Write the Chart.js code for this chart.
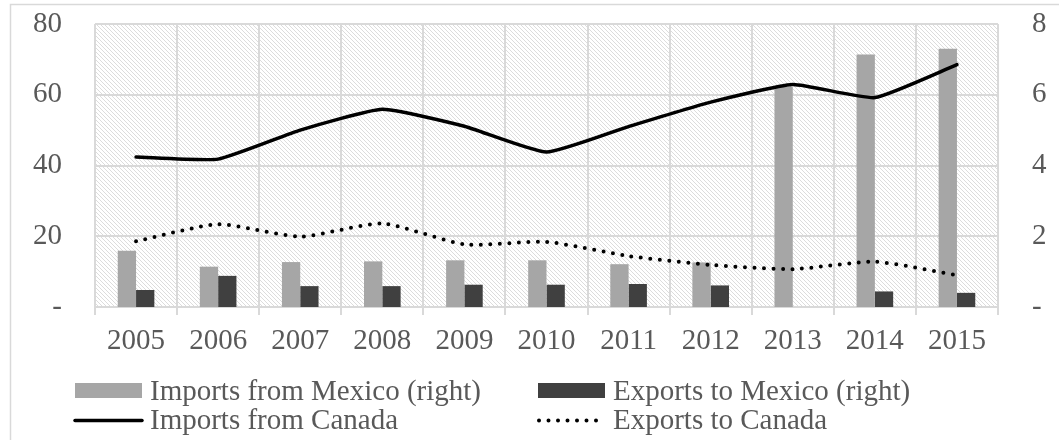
<!DOCTYPE html>
<html>
<head>
<meta charset="utf-8">
<script src="https://cdn.jsdelivr.net/npm/chart.js@4.4.0/dist/chart.umd.min.js"></script>
<style>
    html, body { margin: 0; padding: 0; background: #fff; }
</style>
</head>
<body>
<canvas id="chart" width="1059" height="440"></canvas>
<script>
// Данные
const years = ['2005', '2006', '2007', '2008', '2009', '2010', '2011', '2012', '2013', '2014', '2015'];
const importsMexico = [1.59, 1.14, 1.27, 1.29, 1.32, 1.32, 1.21, 1.26, 6.22, 7.14, 7.30];
const exportsMexico = [0.48, 0.88, 0.59, 0.59, 0.63, 0.63, 0.65, 0.61, null, 0.44, 0.40];
const importsCanada = [42.4, 41.8, 50.0, 55.9, 51.1, 43.8, 51.0, 57.9, 62.9, 59.2, 68.5];
const exportsCanada = [18.6, 23.4, 19.9, 23.6, 17.7, 18.4, 14.4, 11.9, 10.7, 12.8, 9.0];
const seriesNames = ['Imports from Mexico (right)', 'Exports to Mexico (right)', 'Imports from Canada', 'Exports to Canada'];

const FONT = '"Liberation Serif", "Times New Roman", serif';
const TEXT = '#595959';
const GRID = '#d9d9d9';

Chart.defaults.font.family = FONT;
Chart.defaults.font.size = 29;
Chart.defaults.color = TEXT;

function zeroDash(v) {
    return v === 0 ? '-' : v;
}

// Штриховка фона области построения
function makeHatch() {
    const c = document.createElement('canvas');
    c.width = 8; c.height = 8;
    const g = c.getContext('2d');
    g.fillStyle = '#fff';
    g.fillRect(0, 0, 8, 8);
    g.fillStyle = '#dcdcdc';
    for (let i = 0; i < 8; i++) {
        g.fillRect(i, i, 1, 1);
        g.fillRect((i + 4) % 8, i, 1, 1);
    }
    return c;
}

// отступ подписей не должен сдвигать верх области построения
function fitY(width) {
    return s => {
        s.width = width;
        s.paddingTop = 17;
        s.paddingBottom = 17;
    };
}

const backdrop = {
    id: 'backdrop',
    beforeDraw(chart) {
        const {ctx, chartArea: a} = chart;
        ctx.save();
        ctx.strokeStyle = GRID;
        ctx.lineWidth = 1.5;
        ctx.strokeRect(10.5, 4.5, 1200, 600);
        ctx.fillStyle = ctx.createPattern(makeHatch(), 'repeat');
        ctx.fillRect(a.left, a.top, a.right - a.left, a.bottom - a.top);
        ctx.restore();
    }
};

// Легенда в две колонки, как в оригинале
const legend2x2 = {
    id: 'legend2x2',
    afterDraw(chart) {
        const ctx = chart.ctx;
        const ds = chart.data.datasets;
        const cols = [75, 538];
        const rows = [390.5, 420.5];
        const base = [400, 429];
        ctx.save();
        ctx.font = '29px ' + FONT;
        ctx.textBaseline = 'alphabetic';
        ds.forEach((d, i) => {
            const x = cols[i % 2];
            const r = Math.floor(i / 2);
            if (d.type === 'bar') {
                ctx.fillStyle = d.backgroundColor;
                ctx.fillRect(x, rows[r] - 7.5, 67, 15);
            } else {
                ctx.strokeStyle = d.borderColor;
                ctx.lineWidth = d.borderWidth;
                ctx.lineCap = d.borderCapStyle || 'butt';
                ctx.setLineDash(d.borderDash || []);
                ctx.beginPath();
                ctx.moveTo(x + (d.borderDash ? 1 : 0), rows[r]);
                ctx.lineTo(x + 67, rows[r]);
                ctx.stroke();
                ctx.setLineDash([]);
            }
            ctx.fillStyle = TEXT;
            ctx.fillText(d.label, x + 75, base[r]);
        });
        ctx.restore();
    }
};

new Chart(document.getElementById('chart'), {
    data: {
        labels: years,
        datasets: [
            {
                type: 'bar', label: seriesNames[0], data: importsMexico, yAxisID: 'yR',
                backgroundColor: '#a6a6a6', categoryPercentage: 0.446, barPercentage: 1, order: 2
            },
            {
                type: 'bar', label: seriesNames[1], data: exportsMexico, yAxisID: 'yR',
                backgroundColor: '#404040', categoryPercentage: 0.446, barPercentage: 1, order: 2
            },
            {
                type: 'line', label: seriesNames[2], data: importsCanada, yAxisID: 'yL',
                borderColor: '#000', borderWidth: 3.5, tension: 0.15, pointRadius: 0,
                borderCapStyle: 'round', fill: false, order: 1
            },
            {
                type: 'line', label: seriesNames[3], data: exportsCanada, yAxisID: 'yL',
                borderColor: '#000', borderWidth: 4, borderDash: [0, 9.5], borderCapStyle: 'round',
                tension: 0.2, pointRadius: 0, fill: false, order: 1
            }
        ]
    },
    options: {
        responsive: false,
        animation: false,
        devicePixelRatio: 1,
        layout: { padding: { left: 10, right: 0, top: 24, bottom: 83 } },
        plugins: {
            legend: { display: false },
            tooltip: { enabled: false }
        },
        scales: {
            x: {
                offset: true,
                grid: { offset: true, color: GRID, lineWidth: 2, drawTicks: true, tickLength: 8 },
                border: { display: false },
                ticks: { padding: 9, maxRotation: 0, autoSkip: false },
                afterFit: s => { s.height = 50; }
            },
            yL: {
                position: 'left', min: 0, max: 80,
                ticks: { stepSize: 20, padding: 33, callback: zeroDash },
                grid: { color: GRID, lineWidth: 2, drawTicks: false },
                border: { display: false },
                afterFit: fitY(85)
            },
            yR: {
                position: 'right', min: 0, max: 8,
                ticks: { stepSize: 2, padding: 34, callback: zeroDash },
                grid: { display: false, drawTicks: false },
                border: { display: false },
                afterFit: fitY(61)
            }
        }
    },
    plugins: [backdrop, legend2x2]
});
</script>
</body>
</html>
